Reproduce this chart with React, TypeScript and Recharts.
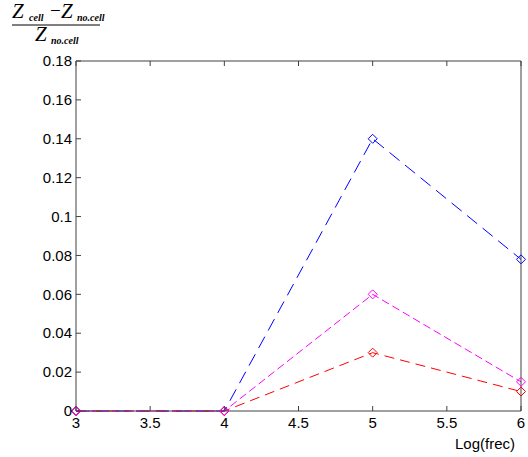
import { LineChart, Line, XAxis, YAxis } from "recharts";

const logFreq = [3, 4, 5, 6];
const blueSeries = [0, 0, 0.14, 0.078];
const magentaSeries = [0, 0, 0.06, 0.015];
const redSeries = [0, 0, 0.03, 0.01];
const xTicks = [3, 3.5, 4, 4.5, 5, 5.5, 6];
const yTicks = [0, 0.02, 0.04, 0.06, 0.08, 0.1, 0.12, 0.14, 0.16, 0.18];

const data = logFreq.map((x, i) => ({
  x,
  blue: blueSeries[i],
  magenta: magentaSeries[i],
  red: redSeries[i],
}));

const AXIS = "#404040";
const FONT = "'Liberation Sans', Arial, sans-serif";
const TICK = 5;

const diamond = (color: string) => (props: any) => {
  const { cx, cy, index } = props;
  const r = 4.5;
  return (
    <path
      key={`d-${color}-${index}`}
      d={`M${cx},${cy - r} L${cx + r},${cy} L${cx},${cy + r} L${cx - r},${cy} Z`}
      fill="none"
      stroke={color}
      strokeWidth={1}
    />
  );
};

const BottomTick = ({ x, y, payload }: any) => (
  <g>
    <line x1={x} y1={y} x2={x} y2={y - TICK} stroke={AXIS} />
    <text x={x} y={y + 17} textAnchor="middle" fontSize={15} fontFamily={FONT} fill="#000">
      {payload.value}
    </text>
  </g>
);

const TopTick = ({ x, y }: any) => (
  <line x1={x} y1={y} x2={x} y2={y + TICK} stroke={AXIS} />
);

const LeftTick = ({ x, y, payload }: any) => (
  <g>
    <line x1={x} y1={y} x2={x + TICK} y2={y} stroke={AXIS} />
    <text x={x - 4} y={y} dy="0.35em" textAnchor="end" fontSize={15} fontFamily={FONT} fill="#000">
      {payload.value}
    </text>
  </g>
);

const RightTick = ({ x, y }: any) => (
  <line x1={x} y1={y} x2={x - TICK} y2={y} stroke={AXIS} />
);

export default function App() {
  return (
    <div style={{ position: "absolute", left: 0, top: 0, width: 528, height: 457, background: "#fff" }}>
      <LineChart
        width={528}
        height={457}
        data={data}
        margin={{ top: 51, right: 0, bottom: 16, left: 36 }}
      >
        <XAxis
          xAxisId="b"
          dataKey="x"
          type="number"
          domain={[3, 6]}
          ticks={xTicks}
          interval={0}
          height={30}
          tickLine={false}
          tickSize={0}
          tickMargin={0}
          stroke={AXIS}
          tick={BottomTick}
        />
        <XAxis
          xAxisId="t"
          orientation="top"
          dataKey="x"
          type="number"
          domain={[3, 6]}
          ticks={xTicks}
          interval={0}
          height={10}
          tickLine={false}
          tickSize={0}
          tickMargin={0}
          stroke={AXIS}
          tick={TopTick}
        />
        <YAxis
          yAxisId="l"
          type="number"
          domain={[0, 0.18]}
          ticks={yTicks}
          interval={0}
          width={40}
          tickLine={false}
          tickSize={0}
          tickMargin={0}
          stroke={AXIS}
          tick={LeftTick}
        />
        <YAxis
          yAxisId="r"
          orientation="right"
          type="number"
          domain={[0, 0.18]}
          ticks={yTicks}
          interval={0}
          width={7}
          tickLine={false}
          tickSize={0}
          tickMargin={0}
          stroke={AXIS}
          tick={RightTick}
        />
        <Line
          xAxisId="b"
          yAxisId="l"
          dataKey="blue"
          type="linear"
          stroke="#0000ff"
          strokeWidth={1}
          strokeDasharray="13 7"
          dot={diamond("#0000ff")}
          activeDot={false}
          isAnimationActive={false}
        />
        <Line
          xAxisId="b"
          yAxisId="l"
          dataKey="red"
          type="linear"
          stroke="#ff0000"
          strokeWidth={1}
          strokeDasharray="10 6"
          dot={diamond("#ff0000")}
          activeDot={false}
          isAnimationActive={false}
        />
        <Line
          xAxisId="b"
          yAxisId="l"
          dataKey="magenta"
          type="linear"
          stroke="#ff00ff"
          strokeWidth={1}
          strokeDasharray="8 4"
          dot={diamond("#ff00ff")}
          activeDot={false}
          isAnimationActive={false}
        />
      </LineChart>
      <svg
        width={528}
        height={457}
        style={{ position: "absolute", left: 0, top: 0, pointerEvents: "none" }}
      >
        <g fontFamily="'Liberation Serif', 'DejaVu Serif', serif" fontStyle="italic" fill="#000">
          <text x={12} y={18} fontSize={21}>Z</text>
          <text x={29} y={21} fontSize={10} fontWeight="bold">cell</text>
          <text x={50} y={17} fontSize={19} fontStyle="normal">−</text>
          <text x={61} y={18} fontSize={21}>Z</text>
          <text x={77} y={21} fontSize={10} fontWeight="bold">no.cell</text>
          <line x1={12} y1={25} x2={100} y2={25} stroke="#000" strokeWidth={1} />
          <text x={35} y={41} fontSize={21}>Z</text>
          <text x={51} y={44} fontSize={10} fontWeight="bold">no.cell</text>
        </g>
        <text x={515} y={449} textAnchor="end" fontSize={15} fontFamily={FONT} fill="#000">
          Log(frec)
        </text>
      </svg>
    </div>
  );
}
